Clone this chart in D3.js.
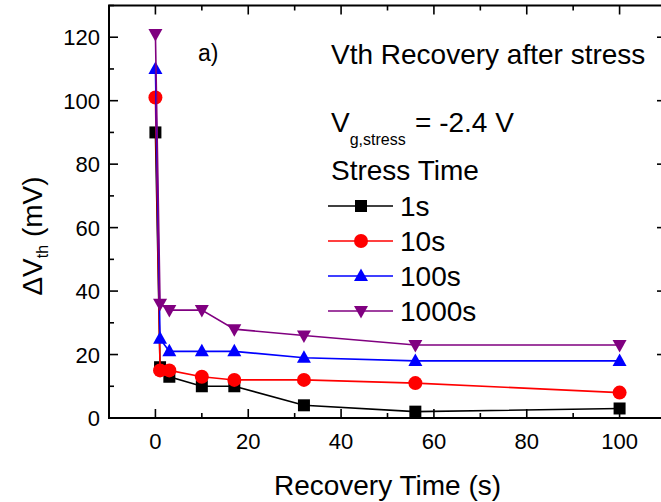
<!DOCTYPE html>
<html><head><meta charset="utf-8">
<script src="https://d3js.org/d3.v7.min.js"></script>
<style>
body{margin:0;background:#fff}
svg{display:block;font-family:"Liberation Sans",Arial,Helvetica,sans-serif}
</style>
</head><body>
<svg id="chart" width="661" height="502"></svg>
<script>
// Recovery time after stress removal (s)
const recoveryTime = [0, 1, 3, 10, 17, 32, 56, 100];
// Threshold-voltage shift (mV) for each stress duration
const dv1s    = [90, 16, 13, 10, 10, 4, 2, 3];
const dv10s   = [101, 15, 15, 13, 12, 12, 11, 8];
const dv100s  = [110, 25, 21, 21, 21, 19, 18, 18];
const dv1000s = [121, 36, 34, 34, 28, 26, 23, 23];
const stressLabels = ["1s", "10s", "100s", "1000s"];
const seriesColors = ["#000000", "#ff0000", "#0000ff", "#800080"];
const seriesMarkers = ["square", "circle", "up", "down"];
const xTicks = [0, 20, 40, 60, 80, 100];
const yTicks = [0, 20, 40, 60, 80, 100, 120];

const svg = d3.select("#chart");
const x = d3.scaleLinear().domain([-10, 110]).range([109, 666]);
const y = d3.scaleLinear().domain([0, 130]).range([418, 5.5]);

const series = [dv1s, dv10s, dv100s, dv1000s].map((vals, i) => ({
  label: stressLabels[i], color: seriesColors[i], marker: seriesMarkers[i],
  points: vals.map((v, j) => [recoveryTime[j], v])
}));

function markerPath(kind) {
  if (kind === "square") return "M-6,-6H6V6H-6Z";
  if (kind === "circle") return d3.symbol(d3.symbolCircle, Math.PI * 7 * 7)();
  if (kind === "up") return "M0,-7.5L7,5L-7,5Z";
  return "M0,7.5L7,-5L-7,-5Z";
}

// frame with inward ticks on all four sides
const minorX = d3.range(-10, 111, 10), minorY = d3.range(0, 131, 10);
const g = svg.append("g");
function tickLen(v, major) { return major.includes(v) ? 9 : 5; }
minorX.forEach(v => {
  const L = tickLen(v, xTicks);
  g.append("line").attr("x1", x(v)).attr("x2", x(v)).attr("y1", y(0)).attr("y2", y(0) - L);
  g.append("line").attr("x1", x(v)).attr("x2", x(v)).attr("y1", y(130)).attr("y2", y(130) + L);
});
minorY.forEach(v => {
  const L = tickLen(v, yTicks);
  g.append("line").attr("y1", y(v)).attr("y2", y(v)).attr("x1", x(-10)).attr("x2", x(-10) + L);
  g.append("line").attr("y1", y(v)).attr("y2", y(v)).attr("x1", x(110)).attr("x2", x(110) - L);
});
g.selectAll("line").attr("stroke", "#000").attr("stroke-width", 1.6);
g.append("rect").attr("x", x(-10)).attr("y", y(130))
  .attr("width", x(110) - x(-10)).attr("height", y(0) - y(130))
  .attr("fill", "none").attr("stroke", "#000").attr("stroke-width", 2);

// tick labels
svg.append("g").selectAll("text").data(xTicks).join("text")
  .attr("x", d => x(d)).attr("y", 449).attr("text-anchor", "middle")
  .attr("font-size", 22).text(d => d);
svg.append("g").selectAll("text").data(yTicks).join("text")
  .attr("x", 100).attr("y", d => y(d) + 8).attr("text-anchor", "end")
  .attr("font-size", 22).text(d => d);

// axis titles
svg.append("text").attr("x", x(50)).attr("y", 495).attr("text-anchor", "middle")
  .attr("font-size", 28).text("Recovery Time (s)");
const yt = svg.append("text").attr("transform", "translate(42,236) rotate(-90)")
  .attr("text-anchor", "middle").attr("font-size", 28);
yt.append("tspan").text("\u0394V");
yt.append("tspan").attr("font-size", 16).attr("dy", 6).text("th");
yt.append("tspan").attr("dy", -6).text("\u00a0(mV)");

// data series
const line = d3.line().x(d => x(d[0])).y(d => y(d[1]));
series.forEach(s => {
  const sg = svg.append("g");
  sg.append("path").attr("d", line(s.points)).attr("fill", "none")
    .attr("stroke", s.color).attr("stroke-width", 1.6);
  sg.selectAll("path.m").data(s.points).join("path").attr("class", "m")
    .attr("transform", d => `translate(${x(d[0])},${y(d[1])})`)
    .attr("d", markerPath(s.marker)).attr("fill", s.color);
});

// annotations
svg.append("text").attr("x", 198).attr("y", 61).attr("font-size", 23).text("a)");
svg.append("text").attr("x", 331).attr("y", 64).attr("font-size", 28).text("Vth Recovery after stress");
const vg = svg.append("text").attr("x", 331).attr("y", 132).attr("font-size", 28);
vg.append("tspan").text("V");
vg.append("tspan").attr("font-size", 16).attr("dy", 13).text("g,stress");
vg.append("tspan").attr("x", 415).attr("dy", -13).text("= -2.4 V");
svg.append("text").attr("x", 331).attr("y", 180).attr("font-size", 28).text("Stress Time");

// legend
const legendY = [206, 241, 276, 311];
series.forEach((s, i) => {
  const lg = svg.append("g").attr("transform", `translate(0,${legendY[i]})`);
  lg.append("line").attr("x1", 328).attr("x2", 393).attr("stroke", s.color).attr("stroke-width", 1.6);
  lg.append("path").attr("transform", "translate(361,0)").attr("d", markerPath(s.marker)).attr("fill", s.color);
  lg.append("text").attr("x", 400).attr("y", 10).attr("font-size", 28).text(s.label);
});
</script>
</body></html>
